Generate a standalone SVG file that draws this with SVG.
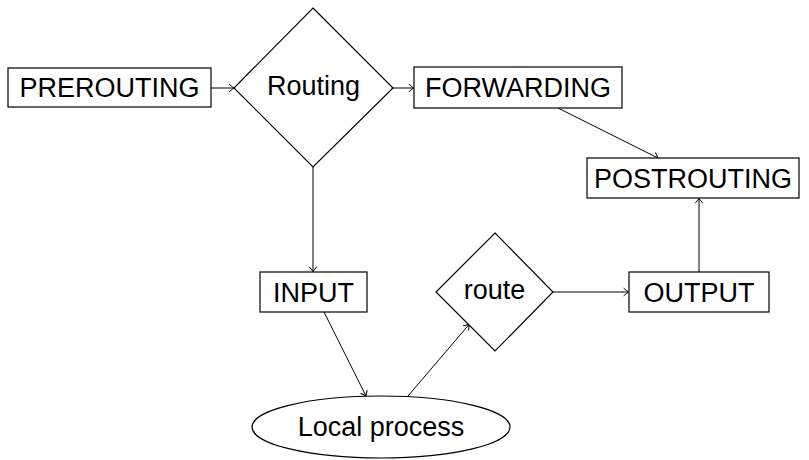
<svg xmlns="http://www.w3.org/2000/svg" width="809" height="460" viewBox="0 0 809 460">
  <style>
    .shape { fill: #ffffff; stroke: #000000; stroke-width: 1.2; }
    .edge { fill: none; stroke: #000000; stroke-width: 1; marker-end: url(#to); }
    .label { font-family: "Liberation Sans", Arial, sans-serif; font-size: 27px; fill: #000000; text-anchor: middle; }
  </style>
  <defs>
    <!-- open curved "to" arrowhead -->
    <marker id="to" viewBox="-6 -5 8 10" refX="0" refY="0" markerWidth="8" markerHeight="10" markerUnits="userSpaceOnUse" orient="auto" overflow="visible">
      <path d="M -4.5 -3.5 Q -1 -0.8 0 0 Q -1 0.8 -4.5 3.5" fill="none" stroke="#000000" stroke-width="1" stroke-linecap="round"/>
    </marker>
  </defs>

  <g id="connectors">
    <line class="edge" x1="211" y1="88" x2="234" y2="88"/>
    <line class="edge" x1="393" y1="88" x2="413.5" y2="88"/>
    <line class="edge" x1="558" y1="108" x2="658" y2="158"/>
    <line class="edge" x1="313" y1="167" x2="313" y2="271.5"/>
    <line class="edge" x1="324" y1="312" x2="366" y2="396"/>
    <line class="edge" x1="408" y1="396" x2="469" y2="324.5"/>
    <line class="edge" x1="553" y1="292" x2="628.5" y2="292"/>
    <line class="edge" x1="699" y1="272" x2="699" y2="198.5"/>
  </g>

  <g id="prerouting">
    <rect class="shape" x="8" y="68" width="203" height="39"/>
    <text class="label" x="109.5" y="97">PREROUTING</text>
  </g>

  <g id="routing">
    <polygon class="shape" points="313,8 393,88 313,167 234,88"/>
    <text class="label" x="313.5" y="95">Routing</text>
  </g>

  <g id="forwarding">
    <rect class="shape" x="414" y="67" width="208" height="41"/>
    <text class="label" x="518" y="97">FORWARDING</text>
  </g>

  <g id="postrouting">
    <rect class="shape" x="587" y="158" width="212" height="40"/>
    <text class="label" x="693" y="187.5">POSTROUTING</text>
  </g>

  <g id="input">
    <rect class="shape" x="260" y="272" width="107" height="40"/>
    <text class="label" x="313.5" y="302">INPUT</text>
  </g>

  <g id="local-process">
    <ellipse class="shape" cx="381" cy="427" rx="129" ry="31"/>
    <text class="label" x="381" y="436">Local process</text>
  </g>

  <g id="route">
    <polygon class="shape" points="495,233 553,292 495,351 436,292"/>
    <text class="label" x="494.5" y="299">route</text>
  </g>

  <g id="output">
    <rect class="shape" x="629" y="272" width="140" height="40"/>
    <text class="label" x="699" y="302">OUTPUT</text>
  </g>
</svg>
